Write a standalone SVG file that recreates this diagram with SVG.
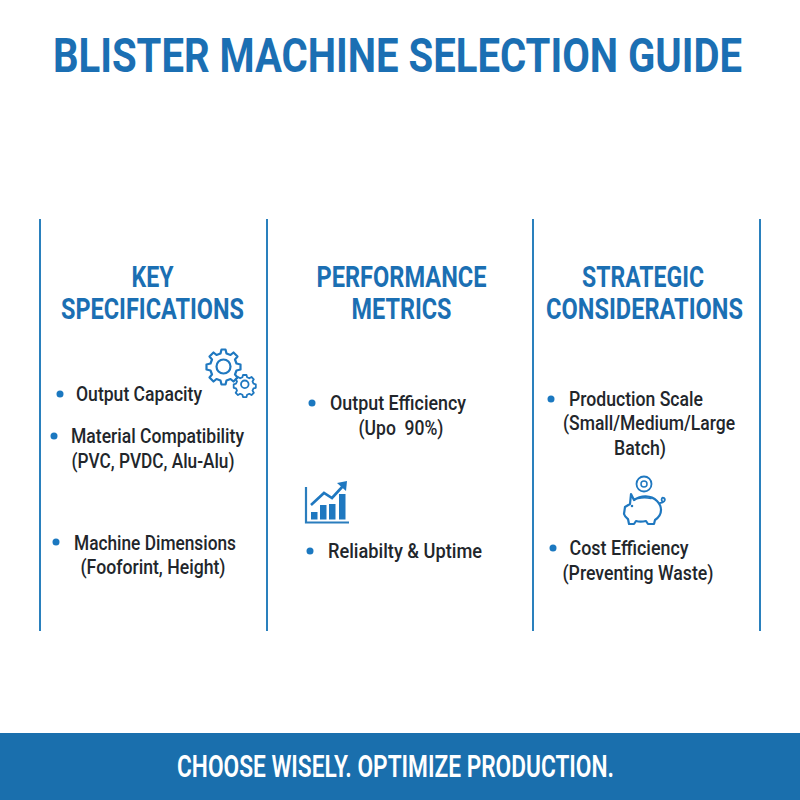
<svg xmlns="http://www.w3.org/2000/svg" width="800" height="800" viewBox="0 0 800 800">
<style>
text{font-family:Roboto,"Liberation Sans",sans-serif;text-anchor:middle}
.title{font-size:48px;font-weight:700;fill:#1b6fb3}
.head{font-size:29.500px;font-weight:700;fill:#1b6fb3}
.item{font-size:20px;font-weight:500;fill:#22262b}
.foot{font-size:32px;font-weight:600;fill:#fff}
.rule{stroke:#2a80bd;stroke-width:2;fill:none}
.dot{fill:#1b78c0}
.ico{fill:none;stroke:#1f78c0;stroke-width:2.200;stroke-linejoin:round;stroke-linecap:round}
</style>
<rect width="800" height="800" fill="#fff"/>
<text id="title" class="title" x="397.500" y="71.500" textLength="689" lengthAdjust="spacingAndGlyphs">BLISTER MACHINE SELECTION GUIDE</text>
<g id="connectors">
<line class="rule" x1="40" y1="219" x2="40" y2="631"/>
<line class="rule" x1="267" y1="219" x2="267" y2="631"/>
<line class="rule" x1="533" y1="219" x2="533" y2="631"/>
<line class="rule" x1="760" y1="219" x2="760" y2="631"/>
</g>
<g id="key-specifications">
<text class="head" x="152.500" y="287" textLength="42" lengthAdjust="spacingAndGlyphs">KEY</text>
<text class="head" x="152.500" y="319" textLength="183" lengthAdjust="spacingAndGlyphs">SPECIFICATIONS</text>
<g id="gears" class="ico">
<path d="M221.500 350l4 0 1 4 4 1.500 3-2.500 4 4-2.500 3 1.500 4 4 1 0 5-4 1-1.500 4 2.500 3-4 4-3-2.500-4 1.500-1 4-4 0-1-4-4-1.500-3 2.500-4-4 2.500-3-1.500-4-4-1 0-5 4-1 1.500-4-2.500-3 4-4 3 2.500 4-1.500z" transform="translate(0 -.5)"/>
<circle cx="223.500" cy="366.500" r="7"/>
<path d="M243 375.500l3.500 0 .6 2.300 2.200 1 2.200-1.300 2.300 2.300-1.300 2.200 1 2.200 2.300.6 0 3.500-2.300.6-1 2.200 1.300 2.200-2.300 2.300-2.200-1.300-2.200 1-.6 2.300-3.500 0-.6-2.300-2.200-1-2.200 1.300-2.300-2.300 1.300-2.200-1-2.200-2.300-.6 0-3.500 2.300-.6 1-2.200-1.300-2.200 2.300-2.300 2.200 1.300 2.200-1z" stroke-width="1.800" transform="translate(0 -.5)"/>
<circle cx="244.800" cy="384.300" r="3.800" stroke-width="1.800"/>
</g>
<circle class="dot" cx="60" cy="394" r="3.500"/>
<text class="item" x="139" y="401" textLength="126" lengthAdjust="spacingAndGlyphs">Output Capacity</text>
<circle class="dot" cx="54" cy="436" r="3.500"/>
<text class="item" x="157.500" y="443" textLength="173" lengthAdjust="spacingAndGlyphs">Material Compatibility</text>
<text class="item" x="153" y="468" textLength="163" lengthAdjust="spacingAndGlyphs">(PVC, PVDC, Alu-Alu)</text>
<circle class="dot" cx="56" cy="542" r="3.500"/>
<text class="item" x="155" y="550" textLength="162" lengthAdjust="spacingAndGlyphs">Machine Dimensions</text>
<text class="item" x="153" y="574" textLength="145" lengthAdjust="spacingAndGlyphs">(Fooforint, Height)</text>
</g>
<g id="performance-metrics">
<text class="head" x="401.500" y="287" textLength="170" lengthAdjust="spacingAndGlyphs">PERFORMANCE</text>
<text class="head" x="401.500" y="319" textLength="100" lengthAdjust="spacingAndGlyphs">METRICS</text>
<circle class="dot" cx="312" cy="403" r="3.500"/>
<text class="item" x="398" y="410" textLength="136" lengthAdjust="spacingAndGlyphs">Output Efficiency</text>
<text class="item" x="401" y="435" textLength="85" lengthAdjust="spacingAndGlyphs" xml:space="preserve">(Upo  90%)</text>
<g id="chart">
<path d="M306 487V522.500H349" fill="none" stroke="#2a7dbd" stroke-width="2.200"/>
<rect x="311" y="512" width="6.500" height="7.500" fill="#1f78c0"/>
<rect x="320" y="505" width="6.500" height="14.500" fill="#1f78c0"/>
<rect x="329" y="504" width="6.500" height="15.500" fill="#1f78c0"/>
<rect x="339" y="494" width="6.500" height="25.500" fill="#1f78c0"/>
<path d="M311 505L324 493 332 498 343 486" fill="none" stroke="#1f78c0" stroke-width="2.600"/>
<path d="M337 483L347 481 346 491z" fill="#1f78c0"/>
</g>
<circle class="dot" cx="310" cy="551" r="3.500"/>
<text class="item" x="405" y="558" textLength="154" lengthAdjust="spacingAndGlyphs">Reliabilty &amp; Uptime</text>
</g>
<g id="strategic-considerations">
<text class="head" x="643" y="287" textLength="122" lengthAdjust="spacingAndGlyphs">STRATEGIC</text>
<text class="head" x="644.500" y="319" textLength="197" lengthAdjust="spacingAndGlyphs">CONSIDERATIONS</text>
<circle class="dot" cx="551" cy="399" r="3.500"/>
<text class="item" x="636" y="406" textLength="134" lengthAdjust="spacingAndGlyphs">Production Scale</text>
<text class="item" x="649" y="430" textLength="172" lengthAdjust="spacingAndGlyphs">(Small/Medium/Large</text>
<text class="item" x="640" y="455" textLength="52" lengthAdjust="spacingAndGlyphs">Batch)</text>
<g id="piggy" class="ico">
<circle cx="644" cy="484" r="7.500" stroke-width="1.800"/>
<circle cx="644" cy="484" r="3" stroke-width="1.500"/>
<path d="M631 494L634 500C641 495 651 495 657 501 660 504 661 507 661 510 661 515 658 518 655 520L654 524 648 524 646 521C642 522 639 522 636 521L634 524 629 524 628 519C627 518 625 517 624 514L625 507 630 504z"/>
<path d="M638 498.500C642 497.500 647 497.500 651 498.500" stroke-width="1.500"/>
<path d="M660 503C664 503 666 500 664 498 662 497 661 499 662 501" stroke-width="1.800"/>
<circle cx="632" cy="506" r=".7" stroke-width="1.200"/>
</g>
<circle class="dot" cx="553" cy="548" r="3.500"/>
<text class="item" x="629" y="555" textLength="119" lengthAdjust="spacingAndGlyphs">Cost Efficiency</text>
<text class="item" x="638" y="580" textLength="151" lengthAdjust="spacingAndGlyphs">(Preventing Waste)</text>
</g>
<g id="footer">
<rect x="0" y="733" width="800" height="67" fill="#1a6fad"/>
<text class="foot" x="395.500" y="777" textLength="437" lengthAdjust="spacingAndGlyphs">CHOOSE WISELY. OPTIMIZE PRODUCTION.</text>
</g>
</svg>
